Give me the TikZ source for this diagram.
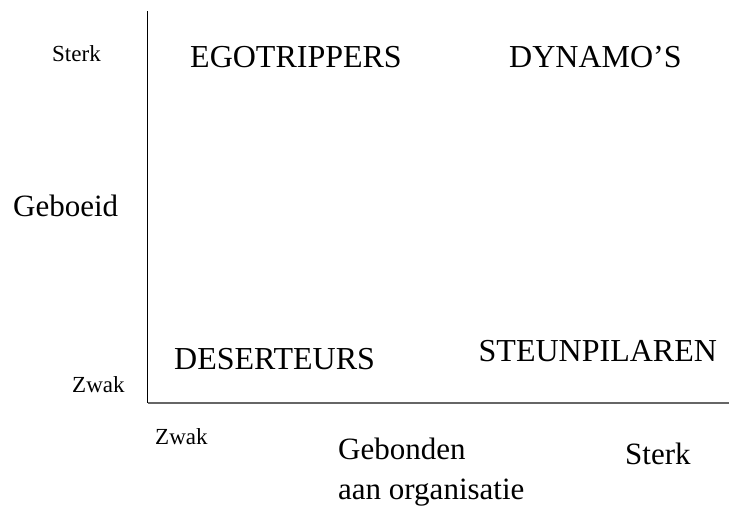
\documentclass[tikz,border=0pt]{standalone}
\usepackage{fontspec}
\setmainfont{Liberation Serif}
\begin{document}
\begin{tikzpicture}[x=1pt,y=-1pt,
  big/.style={inner sep=0pt,anchor=base west,font=\fontsize{31}{38}\selectfont},
  caps/.style={inner sep=0pt,anchor=base west,font=\fontsize{32}{38}\selectfont},
  small/.style={inner sep=0pt,anchor=base west,font=\fontsize{23}{28}\selectfont},
  axis/.style={line width=1.3pt}]
  \useasboundingbox (0,0) rectangle (729,506);
  % axes
  \coordinate (origin) at (147.5,403);
  \coordinate (ytop) at (147.5,11);
  \coordinate (xend) at (729,403);
  \draw[axis,black] (ytop) -- (origin);
  \draw[axis,black!60] (origin) -- (xend);
  % vertical axis labels
  \node[small] (ysterk) at (52,61) {Sterk};
  \node[small] (yzwak) at (72,392) {Zwak};
  \node[big] (geboeid) at (13,216) {Geboeid};
  % quadrants
  \node[caps] (ego) at (190,67.3) {EGOTRIPPERS};
  \node[caps] (dyn) at (509,67.3) {DYNAMO’S};
  \node[caps] (des) at (174,369.6) {DESERTEURS};
  \node[caps] (steun) at (478.5,361.5) {STEUNPILAREN};
  % horizontal axis labels
  \node[small] (xzwak) at (155,444) {Zwak};
  \node[big] (gebonden) at (338,459) {Gebonden};
  \node[big] (organisatie) at (338,499) {aan organisatie};
  \node[big] (xsterk) at (625,464) {Sterk};
\end{tikzpicture}
\end{document}
